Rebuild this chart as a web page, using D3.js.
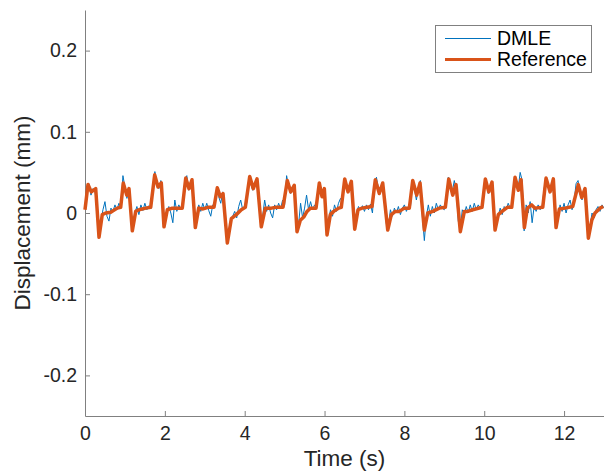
<!DOCTYPE html>
<html>
<head>
<meta charset="utf-8">
<script src="https://cdn.jsdelivr.net/npm/d3@7"></script>
<style>
  body { margin: 0; background: #fff; }
  svg { display: block; font-family: "Liberation Sans", Arial, Helvetica, sans-serif; }
  .axis path, .axis line { stroke: #808080; }
  .axis text { fill: #262626; font-size: 19.5px; }
</style>
</head>
<body>
<svg width="604" height="474"></svg>
<script>
// Reference signal vertices (time in s, displacement in mm)
const refTime = [
  0.000, 0.075, 0.158, 0.268, 0.351, 0.433, 0.519, 0.644, 0.809, 0.894,
  0.959, 1.045, 1.102, 1.185, 1.270, 1.353, 1.521, 1.646, 1.746, 1.829,
  1.911, 1.979, 2.062, 2.187, 2.437, 2.523, 2.605, 2.680, 2.763, 2.848,
  2.956, 3.081, 3.231, 3.314, 3.389, 3.457, 3.565, 3.665, 3.790, 3.915,
  4.016, 4.126, 4.216, 4.309, 4.416, 4.517, 4.667, 4.792, 4.960, 5.068,
  5.153, 5.241, 5.311, 5.393, 5.479, 5.561, 5.644, 5.787, 5.869, 5.937,
  5.995, 6.062, 6.145, 6.230, 6.355, 6.420, 6.506, 6.588, 6.671, 6.756,
  6.839, 6.939, 7.064, 7.189, 7.272, 7.372, 7.457, 7.583, 7.673, 7.773,
  7.873, 7.999, 8.124, 8.209, 8.309, 8.392, 8.500, 8.585, 8.710, 8.875,
  9.026, 9.111, 9.211, 9.294, 9.401, 9.502, 9.587, 9.712, 9.945, 10.028,
  10.113, 10.195, 10.271, 10.353, 10.446, 10.579, 10.689, 10.772, 10.854, 10.922,
  11.005, 11.080, 11.190, 11.273, 11.466, 11.548, 11.649, 11.731, 11.799, 11.882,
  12.024, 12.217, 12.357, 12.442, 12.525, 12.608, 12.693, 12.775, 12.900, 12.983
];
const refValue = [
  0.004, 0.035, 0.026, 0.030, -0.030, -0.002, 0.000, 0.001, 0.006, 0.007,
  0.037, 0.022, 0.030, -0.022, 0.002, 0.004, 0.006, 0.007, 0.047, 0.032,
  0.037, -0.017, 0.004, 0.006, 0.006, 0.043, 0.030, 0.041, -0.018, 0.006,
  0.005, 0.007, 0.007, 0.031, 0.020, 0.024, -0.037, -0.007, -0.002, 0.004,
  0.007, 0.045, 0.030, 0.042, -0.017, 0.006, 0.006, 0.007, 0.007, 0.040,
  0.026, 0.034, -0.023, -0.009, -0.005, 0.002, 0.006, 0.006, 0.037, 0.020,
  0.030, -0.027, -0.002, 0.002, 0.006, 0.007, 0.042, 0.026, 0.039, -0.020,
  0.004, 0.006, 0.007, 0.008, 0.041, 0.024, 0.037, -0.021, -0.002, 0.002,
  0.002, 0.006, 0.006, 0.040, 0.022, 0.037, -0.021, 0.000, 0.002, 0.006,
  0.007, 0.042, 0.022, 0.035, -0.023, 0.002, 0.002, 0.004, 0.007, 0.042,
  0.026, 0.038, -0.021, -0.002, 0.002, 0.007, 0.007, 0.044, 0.028, 0.041,
  -0.018, 0.006, 0.010, 0.006, 0.007, 0.043, 0.026, 0.042, -0.018, 0.005,
  0.006, 0.008, 0.035, 0.019, 0.030, -0.031, -0.009, 0.000, 0.006, 0.008
];

// DMLE estimate, sampled every 0.05 s from 0 to 13 s
const dmleStep = 0.05;
const dmleValue = [
  0.006, 0.030, 0.036, 0.022, 0.030, 0.026, 0.012, -0.026, -0.010, 0.004,
  0.014, -0.004, -0.010, 0.006, 0.002, 0.010, 0.004, 0.012, 0.006, 0.046,
  0.032, 0.018, 0.030, 0.004, -0.016, 0.000, 0.008, -0.002, 0.010, 0.003,
  0.012, 0.004, 0.009, 0.005, 0.030, 0.051, 0.036, 0.030, 0.040, 0.010,
  -0.010, 0.002, 0.008, 0.000, -0.012, 0.016, 0.002, 0.010, 0.004, 0.010,
  0.040, 0.046, 0.028, 0.036, 0.034, -0.012, -0.004, 0.010, 0.002, 0.012,
  0.004, 0.012, 0.003, -0.004, 0.010, 0.010, 0.030, 0.020, 0.012, 0.026,
  0.000, -0.032, -0.024, -0.010, -0.004, 0.002, -0.006, 0.008, 0.016, 0.004,
  0.008, 0.012, 0.040, 0.036, 0.028, 0.036, 0.042, 0.014, -0.014, -0.004,
  0.016, 0.002, 0.010, 0.000, -0.006, 0.010, 0.004, 0.012, 0.005, 0.016,
  0.010, 0.046, 0.032, 0.024, 0.030, 0.030, -0.016, -0.014, 0.012, -0.006,
  0.006, 0.022, 0.004, 0.014, 0.004, 0.010, 0.006, 0.030, 0.026, 0.024,
  0.028, -0.020, -0.008, 0.004, -0.004, 0.010, 0.002, 0.012, 0.018, 0.014,
  0.040, 0.034, 0.026, 0.036, 0.020, -0.016, 0.000, 0.008, 0.004, 0.009,
  0.002, 0.010, 0.004, 0.011, 0.000, 0.032, 0.044, 0.030, 0.026, 0.036,
  0.014, -0.014, -0.016, 0.004, -0.004, 0.006, 0.000, 0.008, -0.002, 0.006,
  0.010, 0.002, 0.008, 0.006, 0.036, 0.030, 0.016, 0.030, 0.040, -0.004,
  -0.034, -0.004, 0.010, -0.004, 0.008, 0.000, 0.012, 0.004, 0.010, 0.006,
  0.004, 0.020, 0.044, 0.030, 0.026, 0.040, 0.028, -0.010, -0.020, 0.004,
  -0.002, 0.008, 0.000, 0.010, 0.002, 0.012, 0.004, 0.010, 0.006, 0.010,
  0.036, 0.038, 0.024, 0.030, 0.036, -0.006, -0.016, -0.004, 0.006, -0.002,
  0.008, 0.004, 0.012, 0.006, 0.010, 0.040, 0.042, 0.030, 0.050, 0.040,
  -0.022, 0.010, 0.000, 0.014, -0.012, 0.008, 0.002, 0.010, 0.004, 0.008,
  0.030, 0.044, 0.034, 0.026, 0.036, 0.020, -0.016, -0.004, 0.010, 0.002,
  0.012, 0.000, 0.010, 0.016, 0.004, 0.014, 0.036, 0.040, 0.024, 0.016,
  0.030, 0.012, -0.026, -0.016, 0.000, -0.006, 0.004, 0.008, 0.002, 0.010,
  0.006
];

const xTicks = [0, 2, 4, 6, 8, 10, 12];
const yTicks = [-0.2, -0.1, 0, 0.1, 0.2];
const yTickLabels = ["-0.2", "-0.1", "0", "0.1", "0.2"];
const seriesNames = ["DMLE", "Reference"];
const seriesColors = ["#0072BD", "#D95319"];

const svg = d3.select("svg");
const plotLeft = 85, plotRight = 604, plotTop = 10, plotBottom = 416;

const x = d3.scaleLinear().domain([0, 13]).range([plotLeft, plotRight]);
const y = d3.scaleLinear().domain([-0.25, 0.25]).range([plotBottom, plotTop]);

const refData = refTime.map(function(t, i) { return [t, refValue[i]]; });
const dmleData = dmleValue.map(function(v, i) { return [i * dmleStep, v]; });

const line = d3.line()
  .x(function(d) { return x(d[0]); })
  .y(function(d) { return y(d[1]); });

svg.append("g")
  .attr("class", "x axis")
  .attr("transform", "translate(0," + plotBottom + ")")
  .call(d3.axisBottom(x).tickValues(xTicks).tickSizeInner(-5).tickSizeOuter(0).tickPadding(10).tickFormat(d3.format("d")));

svg.append("g")
  .attr("class", "y axis")
  .attr("transform", "translate(" + plotLeft + ",0)")
  .call(d3.axisLeft(y).tickValues(yTicks).tickSizeInner(-5).tickSizeOuter(0).tickPadding(8)
    .tickFormat(function(d, i) { return yTickLabels[i]; }));

const plot = svg.append("g");

plot.append("path")
  .datum(dmleData)
  .attr("fill", "none")
  .attr("stroke", seriesColors[0])
  .attr("stroke-width", 1)
  .attr("d", line);

plot.append("path")
  .datum(refData)
  .attr("fill", "none")
  .attr("stroke", seriesColors[1])
  .attr("stroke-width", 3.5)
  .attr("stroke-linejoin", "round")
  .attr("d", line);

// Axis titles
svg.append("text")
  .attr("x", (plotLeft + plotRight) / 2)
  .attr("y", 466)
  .attr("text-anchor", "middle")
  .style("font-size", "22.5px")
  .style("fill", "#262626")
  .text("Time (s)");

svg.append("text")
  .attr("transform", "translate(30," + ((plotTop + plotBottom) / 2) + ") rotate(-90)")
  .attr("text-anchor", "middle")
  .style("font-size", "22.5px")
  .style("fill", "#262626")
  .text("Displacement (mm)");

// Legend
const legend = svg.append("g").attr("class", "legend");
legend.append("rect")
  .attr("x", 435.5)
  .attr("y", 25.5)
  .attr("width", 156)
  .attr("height", 47)
  .attr("fill", "#fff")
  .attr("stroke", "#808080")
  .attr("stroke-width", 1);

seriesNames.forEach(function(name, i) {
  const ly = 38.5 + i * 21;
  legend.append("line")
    .attr("x1", 445).attr("x2", 491)
    .attr("y1", ly).attr("y2", ly)
    .attr("stroke", seriesColors[i])
    .attr("stroke-width", i === 0 ? 1 : 3);
  legend.append("text")
    .attr("x", 497)
    .attr("y", ly + 6.5)
    .style("font-size", "19.5px")
    .style("fill", "#000")
    .text(name);
});
</script>
</body>
</html>
